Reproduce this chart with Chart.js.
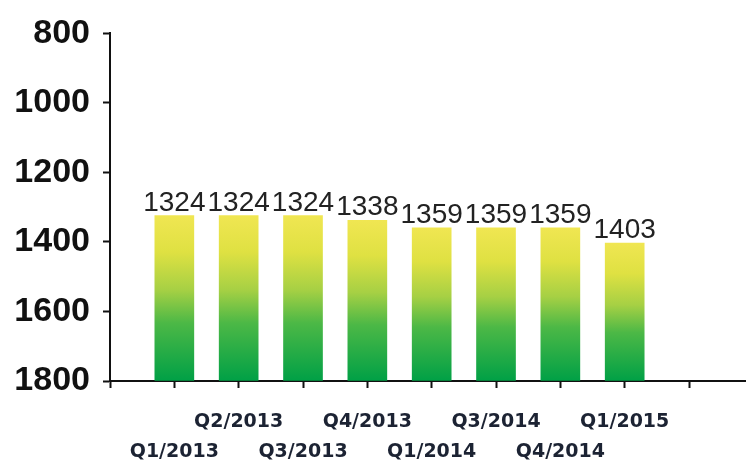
<!DOCTYPE html>
<html>
<head>
<meta charset="utf-8">
<script src="https://cdn.jsdelivr.net/npm/chart.js@4/dist/chart.umd.min.js"></script>
<style>
  html, body { margin: 0; padding: 0; background: #fff; }
  #wrap { width: 749px; height: 461px; }
</style>
</head>
<body>
<div id="wrap"><canvas id="priceChart"></canvas></div>
<script>
// quarter labels as printed under the bars, and bar values
const quarters = ['Q1/2013', 'Q2/2013', 'Q3/2013', 'Q4/2013', 'Q1/2014', 'Q3/2014', 'Q4/2014', 'Q1/2015'];
const values = [1324, 1324, 1324, 1338, 1359, 1359, 1359, 1403];
const yTicks = [800, 1000, 1200, 1400, 1600, 1800];

// bars sit at positions 1..n on a linear x axis
const points = values.map((v, i) => ({ x: i + 1, y: v }));

function barGradient(ctx) {
    const chart = ctx.chart;
    const area = chart.chartArea;
    if (!area || !ctx.parsed) return '#8cc83c';
    const top = chart.scales.y.getPixelForValue(ctx.parsed.y);
    const g = chart.ctx.createLinearGradient(0, top, 0, area.bottom);
    g.addColorStop(0, '#f0e652');
    g.addColorStop(0.22, '#dfe142');
    g.addColorStop(0.45, '#a6d044');
    g.addColorStop(0.65, '#4cb846');
    g.addColorStop(1, '#00a046');
    return g;
}

// value labels on top of each bar
const valueLabels = {
    id: 'valueLabels',
    afterDatasetsDraw(chart) {
        const c = chart.ctx;
        const meta = chart.getDatasetMeta(0);
        c.save();
        c.font = '28px "Liberation Sans", Arial, sans-serif';
        c.fillStyle = '#222';
        c.textAlign = 'center';
        c.textBaseline = 'alphabetic';
        meta.data.forEach((bar, i) => {
            c.fillText(String(values[i]), bar.x, bar.y - 5);
        });
        c.restore();
    }
};

const ctx = document.getElementById('priceChart').getContext('2d');

const chart = new Chart(ctx, {
    type: 'bar',
    data: {
        datasets: [{
            data: points,
            base: 1800,
            barThickness: 39,
            backgroundColor: barGradient,
            borderWidth: 0
        }]
    },
    options: {
        responsive: true,
        maintainAspectRatio: false,
        animation: false,
        layout: { padding: { top: 30, right: 4, left: 0, bottom: 0 } },
        plugins: {
            legend: { display: false },
            tooltip: { enabled: false }
        },
        scales: {
            x: {
                type: 'linear',
                offset: false,
                min: 0,
                max: 9.87,
                afterBuildTicks(scale) {
                    scale.ticks = [0, 1, 2, 3, 4, 5, 6, 7, 8, 9].map(v => ({ value: v }));
                },
                afterFit(scale) { scale.height = 80; },
                grid: {
                    offset: false,
                    drawOnChartArea: false,
                    drawTicks: true,
                    tickLength: 7,
                    tickWidth: 2,
                    color: '#111'
                },
                border: { display: true, color: '#111', width: 2 },
                ticks: {
                    autoSkip: false,
                    maxRotation: 0,
                    padding: 20,
                    color: '#1c2333',
                    font: { family: '"DejaVu Sans", Verdana, sans-serif', size: 19, weight: 'bold', lineHeight: 1.53 },
                    callback(value) {
                        const name = quarters[value - 1];
                        if (!name) return '';
                        return value % 2 === 0 ? [name, ''] : ['', name];
                    }
                }
            },
            y: {
                min: 800,
                max: 1800,
                reverse: true,
                afterBuildTicks(scale) {
                    scale.ticks = yTicks.map(v => ({ value: v }));
                },
                afterFit(scale) { scale.width = 110; },
                grid: {
                    drawOnChartArea: false,
                    drawTicks: true,
                    tickLength: 7,
                    tickWidth: 2,
                    color: '#111'
                },
                border: { display: true, color: '#111', width: 2 },
                ticks: {
                    padding: 13,
                    color: '#111',
                    font: { family: '"Liberation Sans", Arial, sans-serif', size: 34, weight: 'bold' },
                    callback: v => String(v)
                }
            }
        }
    },
    plugins: [valueLabels]
});
</script>
</body>
</html>
